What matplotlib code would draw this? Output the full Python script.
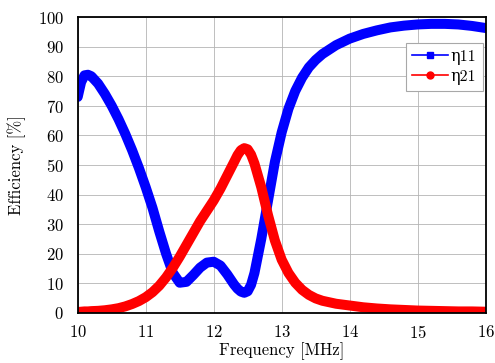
import matplotlib
matplotlib.use('Agg')
import matplotlib.pyplot as plt
from matplotlib.lines import Line2D

plt.rcParams['font.family'] = ['cmr10', 'DejaVu Serif']
plt.rcParams['mathtext.fontset'] = 'cm'
plt.rcParams['axes.formatter.use_mathtext'] = True

freq = [10, 10.05, 10.1, 10.15, 10.2, 10.3, 10.4, 10.5, 10.6, 10.7, 10.8, 10.9,
        11, 11.1, 11.2, 11.3, 11.4, 11.5, 11.6, 11.7, 11.8, 11.9,
        12, 12.1, 12.2, 12.3, 12.35, 12.4, 12.45, 12.5, 12.55, 12.6, 12.7, 12.8, 12.9,
        13, 13.1, 13.2, 13.3, 13.4, 13.5, 13.6, 13.8,
        14, 14.2, 14.4, 14.6, 14.8, 15, 15.2, 15.4, 15.6, 15.8, 16]

eta11 = [73, 78, 80.3, 80.5, 80, 77.5, 74, 70, 65.5, 60.5, 55, 49,
         42.5, 35.5, 27.5, 20, 13.5, 10.2, 10.5, 12.8, 15.3, 17,
         17.3, 16, 13, 9.6, 8.2, 7.2, 6.8, 7.3, 9.5, 13.5, 25, 38, 51,
         61, 69, 75, 79.5, 83, 85.5, 87.5, 90.5,
         92.7, 94.3, 95.5, 96.5, 97.1, 97.5, 97.7, 97.7, 97.5, 97.0, 96.3]

eta21 = [0.3, 0.4, 0.5, 0.5, 0.6, 0.7, 0.9, 1.2, 1.6, 2.2, 3, 4,
         5.3, 7, 9.2, 12, 15.3, 19, 23, 27, 31, 34.5,
         38, 42, 46.5, 51, 53.3, 55, 55.7, 55.3, 53.5, 50.5, 42.5, 33, 24.5,
         18, 13.5, 10.2, 7.8, 6.1, 4.9, 4.1, 3.1,
         2.5, 1.9, 1.5, 1.2, 1.0, 0.8, 0.7, 0.6, 0.5, 0.5, 0.4]

fig = plt.figure(figsize=(4.95, 3.63), dpi=100)
ax = fig.add_axes([0.157, 0.138, 0.824, 0.815])

ax.plot(freq, eta11, color='#0000ff', lw=7.2, solid_capstyle='round',
        solid_joinstyle='round', zorder=3)
ax.plot(freq, eta21, color='#ff0000', lw=7.2, solid_capstyle='round',
        solid_joinstyle='round', zorder=4)

ax.set_xlim(10, 16)
ax.set_ylim(0, 100)
ax.set_xticks(range(10, 17))
ax.set_yticks(range(0, 101, 10))
ax.grid(True, color='#b4b4b4', lw=0.6)
ax.set_axisbelow(True)
ax.tick_params(length=0, labelsize=12)
ax.tick_params(axis='y', pad=10)
ax.tick_params(axis='x', pad=8)
for s in ax.spines.values():
    s.set_linewidth(1.3)
    s.set_zorder(5)

ax.set_xlabel('Frequency [MHz]', fontsize=12, labelpad=1)
ax.set_ylabel('Efficiency [%]', fontsize=12, labelpad=8)

handles = [Line2D([], [], color='#0000ff', lw=1.2, marker='s', markersize=5),
           Line2D([], [], color='#ff0000', lw=1.2, marker='o', markersize=5)]
leg = ax.legend(handles, ['η11', 'η21'], loc='upper right',
                bbox_to_anchor=(0.993, 0.912), borderaxespad=0, fancybox=False,
                edgecolor='#a8a8a8', framealpha=1, fontsize=11.5, handlelength=2.2,
                handletextpad=0.2, labelspacing=0.3, borderpad=0.4)
leg.get_frame().set_linewidth(0.8)

fig.savefig('out.png', dpi=100)
